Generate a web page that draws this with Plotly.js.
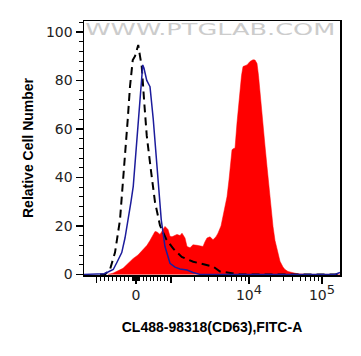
<!DOCTYPE html>
<html>
<head>
<meta charset="utf-8">
<script src="https://cdn.plot.ly/plotly-3.0.1.min.js"></script>
<style>html,body{margin:0;padding:0;background:#fff;}#chart{width:361px;height:356px;}</style>
</head>
<body>
<div id="chart"></div>
<script>
// x values are in display channel units of the biexponential axis (0..1024)
const sampleX = [96,116,136,156,176,196,216,236,252,264,276,284,292,304,316,324,336,344,352,364,372,384,392,404,412,424,436,452,464,476,484,492,504,516,528,536,548,556,564,572,580,584,592,600,604,612,618,624,630,636,644,652,664,676,684,692,698,704,716,724,732,744,756,764,772,784,796,804,816,832,848,864,904,1024];
const sampleY = [0,0.5,1.5,2.5,4.5,6.5,8,10,12,14,16,17.7,17.5,16.5,18.5,19.8,18.5,15.7,15.5,16.3,16.5,16,17,15,11.5,11,12.2,12,11.8,11.5,13.5,15,15.5,14.3,15.5,17,20,24,28,32,39,44.5,51.4,52,52,62.5,70,76,82,85.7,86,86.4,87.8,88.5,88.4,87,82,76,62.5,53,44.5,30.8,19.8,14,10,5.4,3,2,1.2,0.7,0.4,0.2,0,0];

const isoX = [0,64,80,96,117,132,151,164,177,188,197,208,217,227,235,240,251,261,264,277,288,299,309,324,344,364,384,412,436,464,1004,1016,1024];
const isoY = [0,0,0.3,1,2,5,9,15,22.5,30,36.3,50,64,77.4,86.4,85,80,78,77.4,64,50,36.3,22.5,11.5,4.6,3,2.2,1.8,0.8,0,0,0.5,0.8];

const blankX = [64,84,104,124,144,155,164,175,184,195,204,210,217,224,231,241,251,267,284,304,328,357,391,437,477,517,544,596,624,1024];
const blankY = [0,0,2,9,22.5,36.3,50,64,77.5,88.4,90,92.5,94.6,90,85.7,70.9,57.2,43.5,29.8,20.2,14.7,10.6,7.2,5.2,4.1,3.2,1.2,0.3,0,0];

// axis tick positions (channel units)
const labelTickVals = [208, 660, 952];
const labelTickText = ["0", "10<sup><span style='font-size:13px'>4</span></sup>", "10<sup><span style='font-size:13px'>5</span></sup>"];
const decadeTickVals = [50.8, 348];

const xTitle = "CL488-98318(CD63),FITC-A";
const yTitle = "Relative Cell Number";
const watermark = "WWW.PTGLAB.COM";

// minor ticks of the biexponential axis
const minorVals = [];
for (let v = -900; v <= -100; v += 100) minorVals.push(208 + v / 1000 * (208 - 50.8));
for (let v = -90; v <= 90; v += 10) if (v !== 0) minorVals.push(208 + v / 1000 * (v < 0 ? 208 - 50.8 : 140));
for (let v = 100; v <= 900; v += 100) minorVals.push(208 + v / 1000 * 140);
for (let k = 2; k <= 9; k++) minorVals.push(348 + 312 * Math.log10(k));
for (let k = 2; k <= 9; k++) minorVals.push(660 + 292 * Math.log10(k));

const traces = [
  {x: sampleX, y: sampleY, type: 'scatter', mode: 'lines', fill: 'tozeroy',
   fillcolor: '#ff0000', line: {color: '#ff0000', width: 0.5}, hoverinfo: 'skip'},
  {x: blankX, y: blankY, type: 'scatter', mode: 'lines',
   line: {color: '#000000', width: 2, dash: '8px,5px'}, hoverinfo: 'skip'},
  {x: isoX, y: isoY, type: 'scatter', mode: 'lines',
   line: {color: '#1c1c9c', width: 1.5}, hoverinfo: 'skip'},
  {x: [], y: [], xaxis: 'x2', yaxis: 'y', type: 'scatter', mode: 'lines', hoverinfo: 'skip'}
];

const tickFont = {family: 'DejaVu Sans, Verdana, sans-serif', size: 14, color: '#222'};
const titleFont = {family: 'Liberation Sans, Arial, sans-serif', size: 14, color: '#000', weight: 'bold'};

const layout = {
  width: 361, height: 356,
  margin: {l: 84, r: 21, t: 21, b: 81},
  paper_bgcolor: '#fff', plot_bgcolor: '#fff',
  showlegend: false,
  xaxis: {
    range: [0, 1024], showgrid: false, zeroline: false,
    tickmode: 'array', tickvals: labelTickVals, ticktext: labelTickText,
    ticks: 'outside', ticklen: 7, tickwidth: 1.5, tickcolor: '#000',
    showline: true, linecolor: '#000', linewidth: 1.5, mirror: true,
    tickfont: tickFont,
    minor: {tickmode: 'array', tickvals: minorVals, ticklen: 4, tickwidth: 1, tickcolor: '#000', ticks: 'outside'},
    title: {text: xTitle, font: titleFont, standoff: 20}
  },
  xaxis2: {
    range: [0, 1024], overlaying: 'x', anchor: 'y', side: 'bottom',
    showgrid: false, zeroline: false, showline: false, showticklabels: false,
    tickmode: 'array', tickvals: decadeTickVals,
    ticks: 'outside', ticklen: 7, tickwidth: 1.5, tickcolor: '#000'
  },
  yaxis: {
    range: [-0.25, 104.5], showgrid: false, zeroline: false,
    tickmode: 'linear', tick0: 0, dtick: 20,
    ticks: 'outside', ticklen: 7, tickwidth: 1.5, tickcolor: '#000',
    showline: true, linecolor: '#000', linewidth: 1.5, mirror: true,
    tickfont: tickFont,
    minor: {dtick: 4, ticklen: 4, tickwidth: 1, tickcolor: '#000', ticks: 'outside'},
    title: {text: yTitle, font: titleFont, standoff: 9}
  },
  annotations: [{
    text: watermark, xref: 'paper', yref: 'paper', x: 0.496, y: 0.965,
    showarrow: false, xanchor: 'center', yanchor: 'middle',
    font: {family: 'DejaVu Sans, sans-serif', size: 15, color: '#cccccc'}
  }]
};

Plotly.newPlot('chart', traces, layout, {staticPlot: true}).then(function () {
  const t = document.querySelector('.annotation-text');
  if (t) { t.setAttribute('textLength', '250'); t.setAttribute('lengthAdjust', 'spacingAndGlyphs'); }
});
</script>
</body>
</html>
